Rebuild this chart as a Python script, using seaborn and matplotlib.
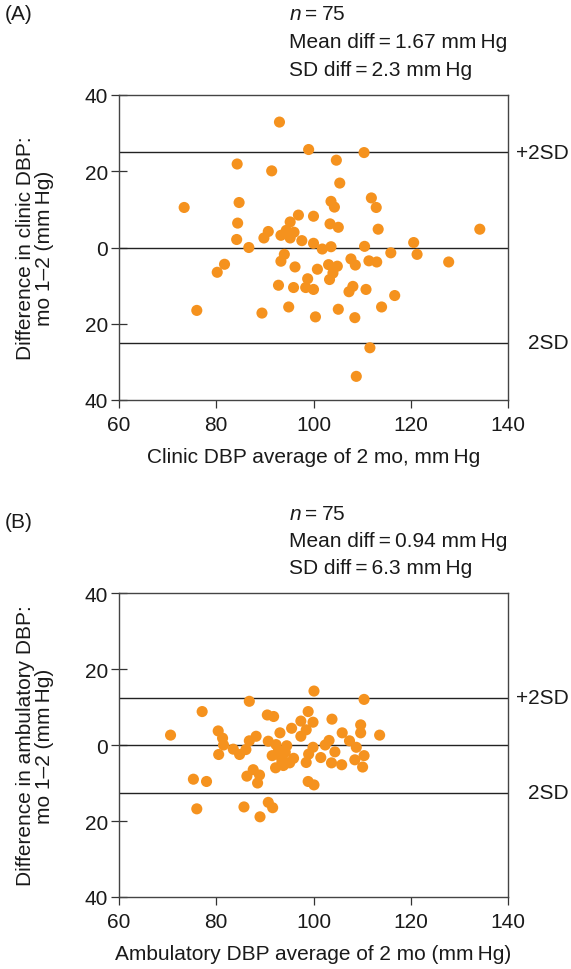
import numpy as np
import pandas as pd
import matplotlib
matplotlib.use("Agg")
import matplotlib.pyplot as plt
import matplotlib.transforms as mtransforms
import seaborn as sns

# ---------------- data ----------------
clinic_avg = [93.0, 99.0, 110.4, 84.3, 104.7, 91.4, 105.4, 111.9, 73.4, 84.7,
              103.6, 104.3, 112.9, 96.9, 100.0, 95.2, 84.4, 103.4, 105.1, 113.3,
              134.2, 90.7, 94.4, 96.0, 89.8, 93.3, 95.2, 84.2, 97.6, 86.7,
              100.0, 101.8, 103.6, 110.5, 120.6, 121.3, 115.9, 94.0, 93.3, 81.7,
              80.2, 96.2, 100.8, 103.1, 104.9, 104.0, 103.3, 107.7, 108.6, 111.4,
              113.0, 127.8, 98.8, 92.8, 95.9, 98.4, 100.0, 108.1, 107.3, 110.8,
              116.7, 76.0, 89.4, 94.9, 105.1, 114.0, 100.4, 108.5, 111.6, 108.8]
clinic_diff = [32.9, 25.7, 24.9, 21.9, 22.9, 20.1, 16.9, 13.0, 10.5, 11.8,
               12.1, 10.6, 10.5, 8.5, 8.2, 6.7, 6.4, 6.2, 5.3, 4.8,
               4.8, 4.2, 4.5, 4.0, 2.5, 3.2, 2.5, 2.1, 1.8, 0.0,
               1.1, -0.4, 0.2, 0.3, 1.3, -1.8, -1.4, -1.8, -3.6, -4.4,
               -6.5, -5.1, -5.7, -4.5, -4.9, -6.7, -8.4, -3.0, -4.6, -3.5,
               -3.8, -3.8, -8.2, -9.9, -10.5, -10.5, -11.0, -10.2, -11.6, -11.0,
               -12.6, -16.5, -17.2, -15.6, -16.2, -15.6, -18.2, -18.4, -26.3, -33.8]

amb_avg = [100.1, 110.4, 86.8, 77.1, 90.5, 91.8, 98.9, 97.4, 99.9, 103.8,
           95.5, 98.5, 97.4, 93.1, 70.6, 80.4, 81.3, 81.5, 88.2, 86.8,
           90.7, 105.9, 107.4, 109.7, 109.7, 113.6, 103.2, 102.4, 108.8, 110.4,
           108.5, 110.1, 105.8, 103.7, 104.4, 101.5, 99.9, 99.0, 98.5, 94.5,
           92.3, 91.5, 93.1, 93.8, 92.2, 93.8, 95.1, 95.9, 83.5, 84.8,
           86.1, 80.5, 87.6, 88.9, 86.3, 88.5, 75.3, 78.0, 98.9, 100.1,
           76.0, 85.7, 90.7, 91.6, 89.0, 92.8, 94.2, 93.5]
amb_diff = [14.2, 12.0, 11.5, 8.8, 7.9, 7.5, 8.8, 6.3, 6.0, 6.8,
            4.4, 4.0, 2.3, 3.2, 2.6, 3.7, 1.8, 0.0, 2.3, 1.1,
            1.0, 3.2, 1.1, 5.3, 3.2, 2.6, 1.2, 0.0, -0.6, -2.8,
            -3.9, -5.8, -5.2, -4.7, -1.8, -3.3, -0.6, -2.4, -4.6, -0.2,
            0.1, -2.8, -2.8, -4.1, -6.0, -5.4, -4.7, -3.5, -1.1, -2.5,
            -1.2, -2.5, -6.5, -7.9, -8.2, -10.0, -9.0, -9.6, -9.6, -10.5,
            -16.8, -16.3, -15.1, -16.5, -18.9, -1.5, -1.9, -4.4]

ref_lines_A = [25, 0, -25]
ref_lines_B = [12.5, 0, -12.5]
line_labels = ["+2SD", "2SD"]

x_ticks = [60, 80, 100, 120, 140]
y_ticks = [40, 20, 0, -20, -40]
y_tick_labels = ["40", "20", "0", "20", "40"]

T = "\u2009"
stats_A = ["$n$" + T + "=" + T + "75", "Mean diff" + T + "=" + T + "1.67 mm" + T + "Hg",
           "SD diff" + T + "=" + T + "2.3 mm" + T + "Hg"]
stats_B = ["$n$" + T + "=" + T + "75", "Mean diff" + T + "=" + T + "0.94 mm" + T + "Hg",
           "SD diff" + T + "=" + T + "6.3 mm" + T + "Hg"]

# ---------------- style ----------------
sns.set_style("ticks")
plt.rcParams["font.family"] = ["Liberation Sans", "DejaVu Sans"]
plt.rcParams["mathtext.fontset"] = "custom"
plt.rcParams["mathtext.it"] = "Liberation Sans:italic"
plt.rcParams["mathtext.rm"] = "Liberation Sans"

DOT = "#F5921E"
TXT = "#1a1a1a"
FS = 15

W, H = 571, 970
fig = plt.figure(figsize=(W / 100, H / 100), dpi=100)
fig.patch.set_facecolor("white")


def px_axes(left, top, right, bottom):
    return fig.add_axes([left / W, 1 - bottom / H, (right - left) / W, (bottom - top) / H])


def panel(ax, xs, ys, lines, xlabel, ylabel):
    df = pd.DataFrame({"x": xs, "y": ys})
    sns.scatterplot(data=df, x="x", y="y", ax=ax, color=DOT, s=64,
                    edgecolor="none", linewidth=0, zorder=3)
    for v in lines:
        ax.axhline(v, color="#222222", lw=1.0, zorder=2)
    ax.set_xlim(60, 140)
    ax.set_ylim(-40, 40)
    ax.set_xticks(x_ticks)
    ax.set_xticklabels([str(t) for t in x_ticks])
    ax.set_yticks(y_ticks)
    ax.set_yticklabels(y_tick_labels)
    ax.tick_params(axis="x", direction="out", length=6, width=0.9,
                   color="#333333", labelsize=FS, labelcolor=TXT, pad=5)
    ax.tick_params(axis="y", direction="inout", length=12, width=0.9,
                   color="#333333", labelsize=FS, labelcolor=TXT, pad=2)
    for sp in ax.spines.values():
        sp.set_visible(True)
        sp.set_color("#444444")
        sp.set_linewidth(1.0)
    ax.set_xlabel(xlabel, fontsize=FS, color=TXT, labelpad=9)
    ax.set_ylabel(ylabel, fontsize=FS, color=TXT, linespacing=1.0)
    ax.yaxis.set_label_coords(-0.168, 0.5)
    trans = mtransforms.blended_transform_factory(fig.transFigure, ax.transData)
    ax.text(569 / W, lines[0], line_labels[0], transform=trans, ha="right",
            va="center", fontsize=FS, color=TXT)
    ax.text(569 / W, lines[2], line_labels[1], transform=trans, ha="right",
            va="center", fontsize=FS, color=TXT)


axA = px_axes(119, 96, 508, 401)
panel(axA, clinic_avg, clinic_diff, ref_lines_A,
      "Clinic DBP average of 2 mo, mm" + T + "Hg",
      "Difference in clinic DBP:\nmo 1–2 (mm" + T + "Hg)")

axB = px_axes(119, 594, 508, 898)
panel(axB, amb_avg, amb_diff, ref_lines_B,
      "Ambulatory DBP average of 2 mo (mm" + T + "Hg)",
      "Difference in ambulatory DBP:\nmo 1–2 (mm" + T + "Hg)")

# panel labels and stats
fig.text(5 / W, 1 - 15 / H, "(A)", fontsize=FS, color=TXT, ha="left", va="center")
fig.text(5 / W, 1 - 523 / H, "(B)", fontsize=FS, color=TXT, ha="left", va="center")
for i, s in enumerate(stats_A):
    fig.text(289 / W, 1 - (15 + 27.5 * i) / H, s, fontsize=FS, color=TXT,
             ha="left", va="center")
for i, s in enumerate(stats_B):
    fig.text(289 / W, 1 - (515 + 26.5 * i) / H, s, fontsize=FS, color=TXT,
             ha="left", va="center")

fig.savefig("out.png", dpi=100, facecolor="white")
